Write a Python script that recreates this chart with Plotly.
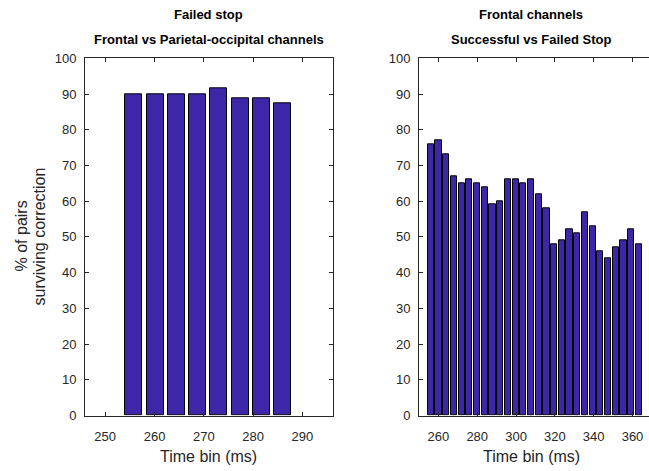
import plotly.graph_objects as go

# Left panel: Failed stop, Frontal vs Parietal-occipital channels
left_time = [255.8, 260.1, 264.4, 268.7, 273.0, 277.4, 281.7, 286.0]
left_pct = [90.0, 90.0, 90.0, 90.0, 91.6, 88.9, 88.9, 87.5]

# Right panel: Frontal channels, Successful vs Failed Stop
right_time = [256.1 + 3.97 * i for i in range(28)]
right_pct = [76, 77, 73, 67, 65, 66, 65, 64, 59, 60, 66, 66, 65, 66,
             62, 58, 48, 49, 52, 51, 57, 53, 46, 44, 47, 49, 52, 48]

left_xticks = [250, 260, 270, 280, 290]
right_xticks = [260, 280, 300, 320, 340, 360]
yticks = list(range(0, 101, 10))

BAR = "#3E26A8"
AX = "#262626"
FONT = "Liberation Sans, Arial, Helvetica, sans-serif"

fig = go.Figure()
fig.add_trace(go.Bar(x=left_time, y=left_pct, width=0.8 * 4.31,
                     marker=dict(color=BAR, line=dict(color="black", width=1)),
                     xaxis="x", yaxis="y", showlegend=False))
fig.add_trace(go.Bar(x=right_time, y=right_pct, width=0.8 * 3.97,
                     marker=dict(color=BAR, line=dict(color="black", width=1)),
                     xaxis="x2", yaxis="y2", showlegend=False))

ydom = [49 / 471, 418 / 471]
common_axis = dict(showgrid=False, zeroline=False, showline=True, linecolor=AX,
                   linewidth=1, ticks="inside", ticklen=4, tickcolor=AX,
                   tickfont=dict(family=FONT, size=13, color=AX))

fig.update_layout(
    width=649, height=471,
    margin=dict(l=0, r=0, t=0, b=0),
    paper_bgcolor="white", plot_bgcolor="white",
    font=dict(family=FONT, color=AX),
    bargap=0,
    xaxis=dict(domain=[85 / 649, 333 / 649], range=[245.9, 296.2],
               tickvals=left_xticks, mirror="ticks", anchor="y",
               ticklabelstandoff=9, **common_axis),
    yaxis=dict(domain=ydom, range=[0, 100], tickvals=yticks, mirror="ticks",
               anchor="x", ticklabelstandoff=5, **common_axis),
    xaxis2=dict(domain=[419 / 649, 1.0], range=[250, 368.5],
                tickvals=right_xticks, mirror="ticks", anchor="y2",
                ticklabelstandoff=9, **common_axis),
    yaxis2=dict(domain=ydom, range=[0, 100], tickvals=yticks, mirror=False,
                anchor="x2", ticklabelstandoff=5, **common_axis),
)

anns = [
    dict(text="<b>Failed stop</b>", x=209, y=8, size=13, color="#000000"),
    dict(text="<b>Frontal vs Parietal-occipital channels</b>", x=209, y=34, size=13, color="#000000"),
    dict(text="<b>Frontal channels</b>", x=531, y=8, size=13, color="#000000"),
    dict(text="<b>Successful vs Failed Stop</b>", x=531, y=34, size=13, color="#000000"),
    dict(text="Time bin (ms)", x=209, y=464, size=16, color=AX),
    dict(text="Time bin (ms)", x=531, y=464, size=16, color=AX),
]
for a in anns:
    fig.add_annotation(text=a["text"], x=a["x"] / 649, y=1 - a["y"] / 471,
                       xref="paper", yref="paper", showarrow=False,
                       xanchor="center", yanchor="middle",
                       font=dict(family=FONT, size=a["size"], color=a["color"]))
for txt, xpx in [("% of pairs", 21), ("surviving correction", 39)]:
    fig.add_annotation(text=txt, x=xpx / 649, y=1 - 237 / 471,
                       xref="paper", yref="paper", showarrow=False, textangle=-90,
                       xanchor="center", yanchor="middle",
                       font=dict(family=FONT, size=16, color=AX))

fig.write_html("out.html")
